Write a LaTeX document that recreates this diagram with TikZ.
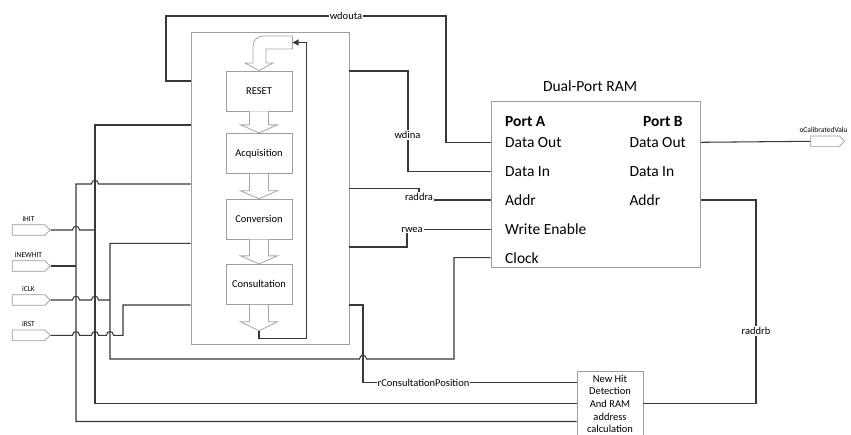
\documentclass[tikz,border=0pt]{standalone}
\usepackage{fontspec}
\setmainfont{Carlito}
\usetikzlibrary{positioning, calc, arrows.meta, shapes.symbols}

% line hop over a vertical wire at x=#1 on row y=#2
\newcommand{\hop}[2]{-- (#1-3.5,#2) .. controls (#1-3.5,#2-5) and (#1+3.5,#2-5) .. (#1+3.5,#2)}

\begin{document}
\begin{tikzpicture}[x=1pt, y=-1pt,
  every node/.style={font=\fontsize{10.5}{12.7}\selectfont},
  wire/.style={draw=black!78, line width=1.05pt},
  box/.style={draw=black!38, line width=0.9pt, fill=white},
  blk/.style={draw=black!35, line width=0.8pt, fill=white},
  lbl/.style={fill=white, inner sep=1pt},
  pin/.style={anchor=west, inner sep=0pt, font=\fontsize{15.5}{18}\selectfont},
  inport/.style={signal, signal to=east, draw=black!40, line width=0.7pt, inner sep=0pt,
    minimum width=38pt, minimum height=10.6pt},
  portlbl/.style={inner sep=0pt, font=\fontsize{7.5}{9}\selectfont}]
\useasboundingbox (0,0) rectangle (851,434);
\clip (0,0) rectangle (851,434);
\fill[white] (0,0) rectangle (851,434);

% State machine container and its states
\node[box, minimum width=158pt, minimum height=312pt] (fsm) at (270,188) {};
\node[box, minimum width=66pt, minimum height=40pt] (reset) at (259,91) {RESET};
\node[box, minimum width=66pt, minimum height=40pt] (acq) at (259,153.3) {Acquisition};
\node[box, minimum width=66pt, minimum height=40pt] (conv) at (259,219.2) {Conversion};
\node[box, minimum width=66pt, minimum height=40pt] (consult) at (259,284.3) {Consultation};

% Block arrows between the states
\foreach \a/\b in {reset/acq, acq/conv, conv/consult}
  \draw[blk] ($(\a.south)+(-9.5,0)$) -- ($(\b.north)+(-9.5,-8)$) -- ++(-9,0) -- (\b.north)
    -- ++(18.5,-8) -- ++(-9,0) -- ($(\a.south)+(9.5,0)$);
\coordinate (fbk) at ($(consult.south)+(0,26)$);
\draw[blk] ($(consult.south)+(-9.5,0)$) -- ($(fbk)+(-9.5,-9)$) -- ++(-9,0) -- (fbk)
  -- ++(18.5,-9) -- ++(-9,0) -- ($(consult.south)+(9.5,0)$);
\coordinate (curvtail) at (292.5,42.5);
\draw[blk] (292.5,36) -- (263,36) .. controls (257.5,36) and (253,40.5) .. (253,46) -- (253,63)
  -- (245,63) -- (reset.north) -- (273,63) -- (266,63) -- (266,49) -- (292.5,49) -- cycle;

% Feedback from last state back to RESET
\draw[wire, -{Triangle[length=6pt,width=6pt]}] (fbk) -- ++(0,8) -| (306.5,42.5) -- (curvtail);

% Dual-port RAM
\node[box, minimum width=209.7pt, minimum height=165.6pt] (ram) at (595.85,184.5) {};
\node[font=\fontsize{15.5}{18}\selectfont] (ramtitle) at (590,86) {Dual-Port RAM};
\node[pin, font=\fontsize{15.5}{18}\selectfont\bfseries] (porta) at (505,121.7) {Port A};
\node[pin] (douta) at (505,142.3) {Data Out};
\node[pin] (dina) at (505,171.5) {Data In};
\node[pin] (addra) at (505,200) {Addr};
\node[pin] (wea) at (505,229.5) {Write Enable};
\node[pin] (clka) at (505,257.7) {Clock};
\node[pin, font=\fontsize{15.5}{18}\selectfont\bfseries] (portb) at (643,121.7) {Port B};
\node[pin] (doutb) at (629.3,142.3) {Data Out};
\node[pin] (dinb) at (629.3,171.5) {Data In};
\node[pin] (addrb) at (629.3,200) {Addr};

% Address calculation block
\node[box, minimum width=66pt, minimum height=64pt, align=center] (newhit) at (610,404)
  {New Hit\\Detection\\And RAM\\address\\calculation};

% Input and output ports
\foreach \n/\t/\y in {ihit/iHIT/230, inewhit/iNEWHIT/266, iclk/iCLK/300, irst/iRST/335.3} {
  \node[inport] (\n) at (28.5,\y) {};
  \node[portlbl, anchor=south] (\n-lbl) at (28.5,\y-8.5) {\t};
}
\node[inport, minimum width=34pt] (oport) at (825,141.3) {};
\node[portlbl, anchor=west] (oport-lbl) at (799.3,130) {oCalibratedValu};

% RAM port A data out back into the state machine
\draw[wire] (fsm.west |- 0,81) -| (166,16) -| (446,142.3) -- (ram.west |- douta);
\node[lbl] (wdoutalbl) at (346,16) {wdouta};

% State machine outputs to RAM port A
\draw[wire] (fsm.east |- 0,71) -| (408,171.5) -- (ram.west |- dina);
\node[lbl] (wdinalbl) at (407.5,135) {wdina};
\draw[wire] (fsm.east |- 0,188.3) -- (419,188.3) -- (419,200) -- (ram.west |- addra);
\node[lbl] (raddralbl) at (419,196.7) {raddra};
\draw[wire] (fsm.east |- 0,247) -| (407,229.5) -- (ram.west |- wea);
\node[lbl] (rwealbl) at (412,229.5) {rwea};

% Consultation position to the address block
\draw[wire] (fsm.east |- 0,305) -| (363,382.7) -- (newhit.west |- 0,382.7);
\node[lbl] (rconslbl) at (423.5,382.7) {rConsultationPosition};

% Input buses
\draw[wire] (fsm.west |- 0,125) -| (95,403.5) -- (newhit.west |- 0,403.5);
\draw[wire] (newhit.west |- 0,421.5) -| (76,184) \hop{95}{184} -- (fsm.west |- 0,184);
\draw[wire] (ihit.east) \hop{76}{230} -- (95,230);
\draw[wire] (inewhit.east) -- (76,266);
\draw[wire] (iclk.east) \hop{76}{300} \hop{95}{300} -- (110,300);
\draw[wire] (fsm.west |- 0,243.3) -| (110,359) \hop{363}{359} -- (454,359) |- (ram.west |- clka);
\draw[wire] (irst.east) \hop{76}{335.3} \hop{95}{335.3} \hop{110}{335.3} -- (123,335.3) |- (fsm.west |- 0,305);

% RAM port B
\draw[wire] (ram.east |- doutb) -- (oport.west);
\draw[wire] (ram.east |- addrb) -| (756,403.5) -- (newhit.east |- 0,403.5);
\node[lbl] (raddrblbl) at (756,331) {raddrb};
\end{tikzpicture}
\end{document}
